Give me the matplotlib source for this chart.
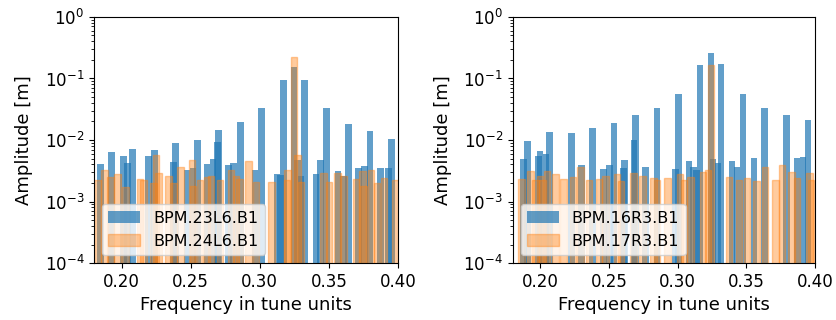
import numpy as np
import matplotlib
matplotlib.use("Agg")
import matplotlib.pyplot as plt

# spectral lines per BPM: tune frequency and amplitude [m]
freq_23l6 = [0.1846, 0.1928, 0.2013, 0.2042, 0.2080, 0.2194, 0.2240, 0.2375, 0.2389, 0.2474,
             0.2517, 0.2549, 0.2617, 0.2660, 0.2694, 0.2701, 0.2773, 0.2810, 0.2860, 0.2965,
             0.3012, 0.3124, 0.3148, 0.3172, 0.3247, 0.3273, 0.3298, 0.3324, 0.3407, 0.3438,
             0.3483, 0.3566, 0.3607, 0.3643, 0.3715, 0.3757, 0.3798, 0.3872, 0.3930, 0.3954]
amp_23l6 = [4.1e-3, 6.4e-3, 5.5e-3, 4.3e-3, 7.1e-3, 5.4e-3, 6.9e-3, 4.4e-3, 8.9e-3, 3.2e-3,
            3.5e-3, 1.0e-2, 4.1e-3, 4.9e-3, 9.3e-3, 1.45e-2, 3.9e-3, 4.2e-3, 1.96e-2, 3.2e-3,
            3.3e-2, 2.8e-3, 2.7e-3, 9.5e-2, 0.155, 4.7e-3, 2.6e-3, 9.5e-2, 2.8e-3, 4.7e-3,
            3.3e-2, 3.1e-3, 2.6e-3, 1.82e-2, 3.5e-3, 3.8e-3, 1.4e-2, 3.5e-3, 3.5e-3, 1.04e-2]

freq_24l6 = [0.1824, 0.1877, 0.1921, 0.1969, 0.2027, 0.2133, 0.2157, 0.2230, 0.2249, 0.2266,
             0.2339, 0.2375, 0.2426, 0.2508, 0.2517, 0.2568, 0.2617, 0.2646, 0.2713, 0.2791,
             0.2829, 0.2851, 0.2916, 0.2972, 0.3085, 0.3196, 0.3201, 0.3247, 0.3273, 0.3298,
             0.3460, 0.3501, 0.3561, 0.3607, 0.3696, 0.3742, 0.3751, 0.3805, 0.3849, 0.3899,
             0.3981]
amp_24l6 = [2.2e-3, 3.3e-3, 2.5e-3, 2.8e-3, 1.7e-3, 2.3e-3, 2.2e-3, 2.0e-3, 5.6e-3, 2.9e-3,
            2.6e-3, 2.0e-3, 3.7e-3, 4.7e-3, 1.8e-3, 2.2e-3, 2.5e-3, 2.6e-3, 2.2e-3, 3.2e-3,
            2.6e-3, 2.3e-3, 4.5e-3, 2.1e-3, 2.1e-3, 2.2e-3, 3.2e-3, 0.22, 5.6e-3, 2.1e-3,
            2.9e-3, 2.1e-3, 2.9e-3, 2.6e-3, 2.3e-3, 3.1e-3, 1.8e-3, 3.2e-3, 2.0e-3, 2.4e-3,
            2.2e-3]

freq_16r3 = [0.1877, 0.1906, 0.1986, 0.1998, 0.2042, 0.2066, 0.2226, 0.2299, 0.2379, 0.2459,
             0.2502, 0.2538, 0.2604, 0.2611, 0.2682, 0.2691, 0.2764, 0.2849, 0.2982, 0.3004,
             0.3083, 0.3113, 0.3137, 0.3163, 0.3243, 0.3258, 0.3294, 0.3316, 0.3394, 0.3432,
             0.3476, 0.3556, 0.3629, 0.3791, 0.3868, 0.3912, 0.3948]
amp_16r3 = [4.9e-3, 9.6e-3, 5.5e-3, 6.6e-3, 5.9e-3, 1.35e-2, 1.3e-2, 3.9e-3, 1.57e-2, 3.4e-3,
            3.9e-3, 1.88e-2, 3.5e-3, 4.7e-3, 1.0e-2, 2.55e-2, 3.7e-3, 3.3e-2, 3.4e-3, 5.6e-2,
            4.5e-3, 3.6e-3, 3.25e-3, 0.166, 0.26, 4.9e-3, 4.2e-3, 0.172, 4.5e-3, 3.6e-3,
            5.6e-2, 5.1e-3, 3.3e-2, 2.55e-2, 5.1e-3, 5.3e-3, 2.1e-2]

freq_17r3 = [0.1863, 0.1931, 0.1964, 0.1998, 0.2018, 0.2049, 0.2112, 0.2170, 0.2238, 0.2292,
             0.2355, 0.2427, 0.2476, 0.2558, 0.2589, 0.2679, 0.2742, 0.2825, 0.2849, 0.2926,
             0.3016, 0.3045, 0.3094, 0.3183, 0.3219, 0.3241, 0.3372, 0.3445, 0.3503, 0.3575,
             0.3636, 0.3711, 0.3759, 0.3828, 0.3868, 0.3958, 0.3968]
amp_17r3 = [2.3e-3, 3.1e-3, 2.24e-3, 2.6e-3, 2.24e-3, 3.1e-3, 2.75e-3, 2.3e-3, 2.5e-3, 3.6e-3,
            2.24e-3, 2.3e-3, 2.6e-3, 2.75e-3, 2.15e-3, 2.9e-3, 2.6e-3, 2.45e-3, 2.24e-3, 2.45e-3,
            2.75e-3, 2.24e-3, 2.5e-3, 3.0e-3, 3.25e-3, 0.166, 2.5e-3, 2.24e-3, 2.4e-3, 2.15e-3,
            3.7e-3, 2.24e-3, 3.9e-3, 3.0e-3, 2.45e-3, 2.9e-3, 2.2e-3]

panels = [
    (("BPM.23L6.B1", freq_23l6, amp_23l6), ("BPM.24L6.B1", freq_24l6, amp_24l6)),
    (("BPM.16R3.B1", freq_16r3, amp_16r3), ("BPM.17R3.B1", freq_17r3, amp_17r3)),
]

width = 0.0048

fig = plt.figure(figsize=(8.37, 3.2), dpi=100)
ax_left = fig.add_axes([0.1123, 0.178, 0.3632, 0.769])
ax_right = fig.add_axes([0.6125, 0.178, 0.3615, 0.769])

for ax, (first, second) in zip([ax_left, ax_right], panels):
    ax.bar(first[1], first[2], width=width, color='C0', alpha=0.7, label=first[0])
    ax.bar(second[1], second[2], width=width, color='C1', edgecolor='C1',
           linewidth=1, alpha=0.4, label=second[0])
    ax.set_yscale('log')
    ax.set_ylim(1e-4, 1)
    ax.set_xlim(0.18, 0.40)
    ax.set_xticks([0.20, 0.25, 0.30, 0.35, 0.40])
    ax.tick_params(labelsize=12)
    ax.set_xlabel('Frequency in tune units', fontsize=13)
    ax.set_ylabel('Amplitude [m]', fontsize=13, labelpad=8)
    ax.legend(loc='lower left', fontsize=11.5)

fig.savefig('out.png', dpi=100)
plt.close()
